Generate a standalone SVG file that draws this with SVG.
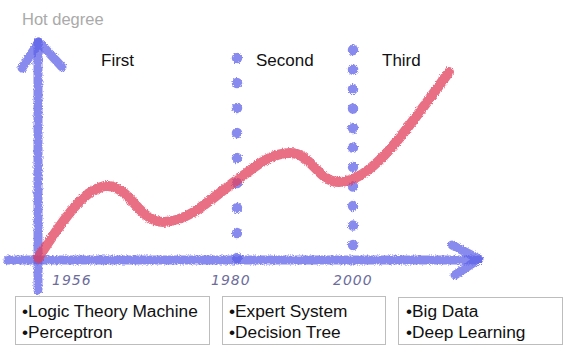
<svg xmlns="http://www.w3.org/2000/svg" width="574" height="358" viewBox="0 0 574 358">
<defs>
<filter id="crayon" x="-10%" y="-10%" width="120%" height="120%">
<feTurbulence type="fractalNoise" baseFrequency="0.9" numOctaves="2" seed="3" result="n"/>
<feDisplacementMap in="SourceGraphic" in2="n" scale="3.5" xChannelSelector="R" yChannelSelector="G" result="d"/>
<feGaussianBlur in="d" stdDeviation="0.6"/>
</filter>
</defs>
<style>
.blue{fill:none;stroke:#5b5fe6;stroke-opacity:0.72;stroke-width:9;stroke-linecap:round;stroke-linejoin:round}
.dots{fill:none;stroke:#5b5fe6;stroke-opacity:0.72;stroke-width:10.5;stroke-linecap:round}
.red{fill:none;stroke:#e2405c;stroke-opacity:0.75;stroke-width:10;stroke-linecap:round}
.lbl{font-family:"Liberation Sans",Arial,sans-serif;font-size:17px;fill:#111}
.hot{font-family:"Liberation Sans",Arial,sans-serif;font-size:16.5px;fill:#aaaaaa}
.yr{font-family:"DejaVu Sans",sans-serif;font-style:italic;font-size:14px;fill:#6c6c9c;letter-spacing:1px}
.box{fill:#fff;stroke:#bdbdbd;stroke-width:1}
.bt{font-family:"Liberation Sans",Arial,sans-serif;font-size:17.3px;fill:#111}
</style>
<rect width="574" height="358" fill="#fff"/>
<text class="hot" x="22" y="25">Hot degree</text>
<text class="lbl" x="101" y="66">First</text>
<text class="lbl" x="256" y="66">Second</text>
<text class="lbl" x="382" y="66">Third</text>
<g id="connectors" filter="url(#crayon)">
<path class="dots" d="M237,58 V260" stroke-dasharray="0 25"/>
<path class="dots" d="M353,50 V250" stroke-dasharray="0 19.5"/>
<path class="blue" d="M8,260 H478"/>
<path class="blue" d="M452,245 L479,259 L455,275"/>
<path class="blue" d="M38,290 V42"/>
<path class="blue" d="M22,68 L39,42 L62,67"/>
<path class="red" d="M38,258 C60,225 85,185 108,186 C130,187 140,222 163,222 C190,222 215,195 237,180 C255,167 270,153 290,153 C312,153 318,183 340,182 C370,181 400,140 449,72"/>
</g>
<text class="yr" x="52" y="285">1956</text>
<text class="yr" x="211" y="285">1980</text>
<text class="yr" x="333" y="285">2000</text>
<g id="box1">
<rect class="box" x="15.5" y="296.5" width="194" height="48"/>
<text class="bt" x="22" y="317">•Logic Theory Machine</text>
<text class="bt" x="22" y="338">•Perceptron</text>
</g>
<g id="box2">
<rect class="box" x="222.5" y="296.5" width="163" height="48"/>
<text class="bt" x="229" y="317">•Expert System</text>
<text class="bt" x="229" y="338">•Decision Tree</text>
</g>
<g id="box3">
<rect class="box" x="398.5" y="297.5" width="164" height="47"/>
<text class="bt" x="406" y="317">•Big Data</text>
<text class="bt" x="406" y="338">•Deep Learning</text>
</g>
</svg>
